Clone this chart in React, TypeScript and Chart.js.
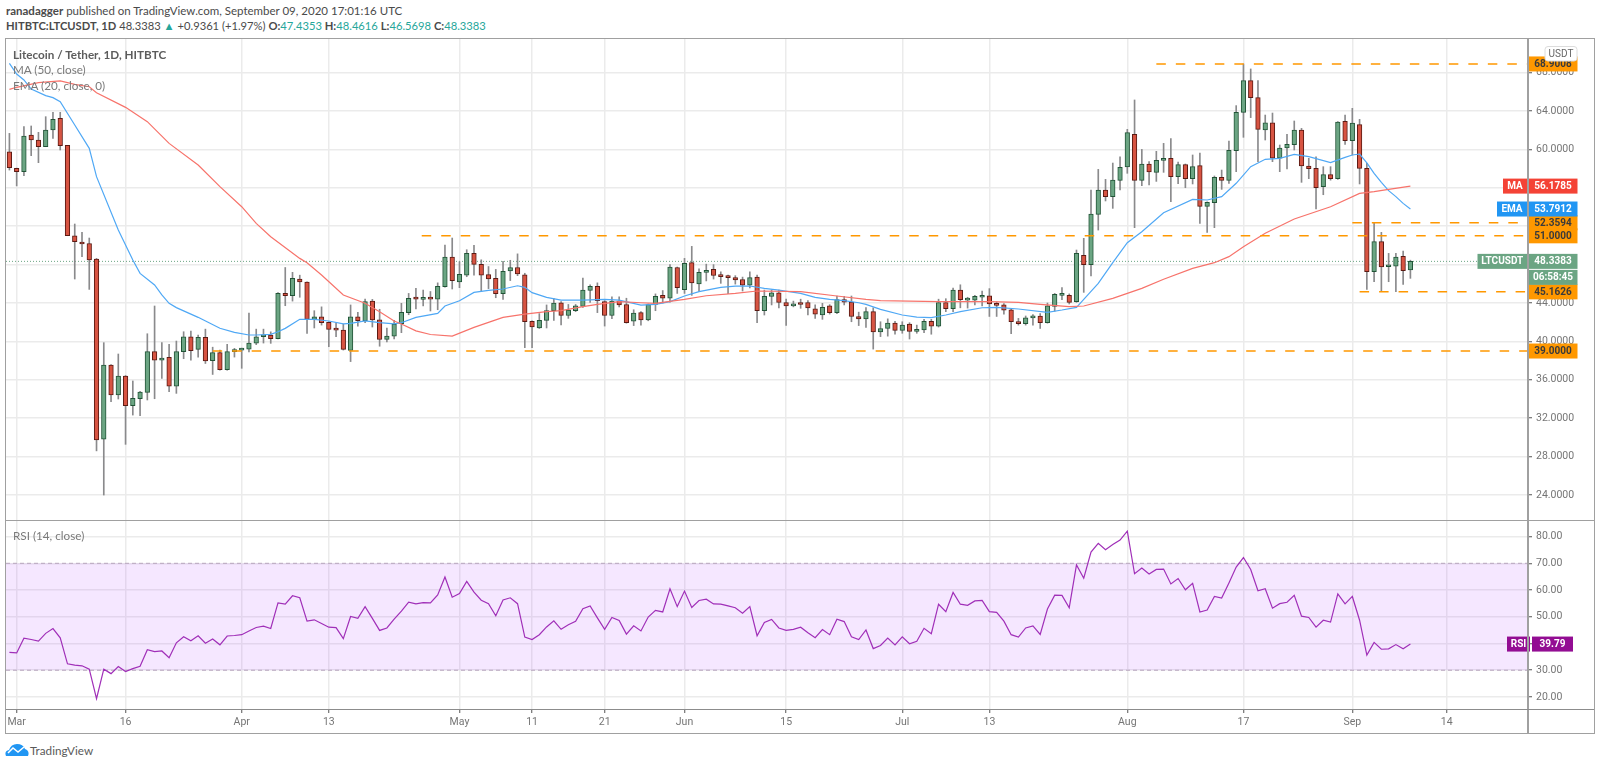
import React, { useEffect, useRef } from 'react';
import { Chart, registerables } from 'chart.js';

Chart.register(...registerables);

const FONT = 'Lato, "Open Sans", sans-serif';
const AXIS_FONT = 'Roboto, sans-serif';

// one entry per daily candle, first one is Feb 29, last one is Sep 9
const opens = [
  59.76, 58.03, 57.68, 61.5, 60.98, 60.28, 62.02, 63.24, 60.42, 51.01,
  50.28, 50.2, 48.58, 29.83, 37.54, 34.42, 36.4, 33.31, 34.03, 34.7,
  38.93, 38.06, 38.34, 35.35, 38.93, 40.49, 39.17, 40.42, 38.0, 38.83,
  37.06, 38.93, 39.1, 39.2, 39.83, 40.49, 40.66, 40.28, 45.0, 44.76,
  46.5, 46.19, 42.3, 42.55, 41.98, 41.28, 41.17, 39.07, 42.55, 42.17,
  44.2, 42.24, 40.2, 40.56, 41.85, 42.99, 44.63, 44.38, 44.5, 44.4,
  45.7, 48.79, 46.2, 46.9, 49.17, 48.03, 46.96, 46.57, 44.97, 47.35,
  47.7, 46.93, 42.1, 41.4, 42.2, 43.2, 44.03, 42.7, 43.2, 43.65,
  45.3, 45.74, 44.15, 42.7, 44.2, 43.85, 42.1, 43.0, 42.25, 43.85,
  44.8, 44.5, 47.7, 45.4, 48.2, 46.0, 47.2, 47.5, 46.87, 46.75,
  46.65, 46.45, 45.85, 46.7, 43.2, 44.68, 45.07, 44.05, 43.7, 43.9,
  44.05, 43.4, 42.75, 43.7, 43.0, 44.35, 44.1, 42.6, 42.35, 43.1,
  41.0, 41.35, 41.9, 41.15, 41.8, 41.05, 41.2, 42.1, 41.6, 44.05,
  43.4, 45.35, 44.3, 44.3, 44.6, 44.75, 43.9, 43.8, 43.3, 42.05,
  41.85, 42.45, 42.65, 41.95, 43.65, 44.8, 44.8, 44.14, 48.97, 48.0,
  53.24, 55.77, 55.08, 56.78, 58.17, 61.57, 56.78, 58.48, 57.61, 58.86,
  59.07, 57.16, 58.41, 56.95, 58.31, 54.07, 54.45, 57.09, 56.78, 59.87,
  63.86, 67.16, 65.39, 62.02, 62.78, 59.1, 60.15, 60.49, 62.02, 58.27,
  58.03, 56.12, 57.37, 56.95, 62.92, 60.91, 62.58, 58.03, 47.26, 50.39,
  47.78, 47.85, 48.86, 47.4353,
];
const highs = [
  61.67, 58.05, 62.37, 62.44, 61.78, 63.41, 63.86, 63.86, 60.42, 52.23,
  51.36, 50.77, 48.65, 39.87, 37.6, 38.69, 36.45, 35.88, 34.8, 40.8,
  43.69, 39.87, 39.7, 40.04, 41.01, 41.07, 40.66, 41.28, 39.4, 39.1,
  39.7, 39.28, 39.3, 42.96, 41.28, 41.28, 41.0, 45.1, 47.7, 47.2,
  46.9, 46.2, 43.2, 43.6, 42.05, 41.9, 41.8, 43.8, 43.04, 44.4,
  44.38, 43.35, 41.4, 42.2, 43.97, 45.0, 45.53, 45.35, 45.2, 46.1,
  50.04, 50.77, 48.3, 49.55, 50.0, 48.5, 47.8, 47.5, 48.33, 48.45,
  49.12, 47.1, 42.15, 42.9, 43.8, 44.45, 44.15, 43.85, 43.85, 46.6,
  45.9, 46.1, 44.25, 44.65, 44.65, 44.5, 43.3, 43.1, 43.9, 44.95,
  45.3, 48.0, 47.75, 48.65, 49.9, 47.55, 48.05, 48.0, 47.25, 46.9,
  46.85, 46.7, 47.25, 46.9, 45.35, 45.35, 45.35, 44.4, 44.2, 44.4,
  44.25, 43.8, 43.97, 43.83, 44.73, 44.7, 44.73, 43.05, 43.53, 43.5,
  42.05, 42.35, 42.1, 42.05, 41.95, 41.7, 42.3, 42.3, 44.4, 44.45,
  45.55, 45.9, 44.6, 44.8, 45.25, 45.5, 44.1, 43.95, 43.35, 42.4,
  42.65, 42.8, 42.9, 44.0, 45.0, 45.6, 44.95, 49.52, 50.74, 55.77,
  57.92, 56.88, 58.58, 59.24, 62.09, 65.15, 60.0, 58.72, 59.8, 60.63,
  61.12, 58.69, 58.48, 59.42, 59.63, 54.55, 57.23, 57.85, 60.88, 64.56,
  68.9, 68.38, 67.16, 63.58, 63.79, 60.46, 61.57, 62.96, 62.19, 59.07,
  59.24, 58.2, 58.2, 62.9, 63.58, 64.28, 63.13, 58.55, 52.37, 51.36,
  49.17, 49.17, 49.42, 48.4616,
];
const lows = [
  57.85, 56.2, 57.26, 59.35, 58.62, 60.28, 61.15, 59.94, 51.01, 46.5,
  48.83, 45.42, 28.6, 24.0, 33.72, 34.0, 29.28, 32.33, 32.26, 33.9,
  34.03, 36.15, 34.76, 34.59, 38.2, 38.06, 38.37, 37.7, 36.56, 37.0,
  37.0, 38.37, 37.2, 38.9, 39.66, 39.83, 39.8, 40.25, 43.72, 44.2,
  44.6, 40.84, 41.4, 41.7, 39.45, 40.5, 39.1, 37.9, 41.6, 41.95,
  41.5, 39.5, 39.96, 40.25, 40.91, 42.78, 43.38, 43.7, 43.17, 43.3,
  45.65, 45.46, 45.6, 46.74, 46.9, 45.18, 45.5, 44.55, 44.38, 46.34,
  46.85, 39.35, 39.35, 41.35, 41.4, 42.2, 41.73, 42.4, 43.1, 43.55,
  44.07, 43.0, 41.6, 42.36, 43.6, 41.9, 41.65, 41.7, 42.15, 43.2,
  44.0, 44.1, 45.0, 45.0, 44.8, 45.2, 46.3, 46.5, 46.05, 44.97,
  45.97, 45.25, 45.57, 41.96, 42.75, 43.8, 43.5, 41.67, 43.6, 43.45,
  42.75, 42.4, 42.3, 42.85, 42.9, 43.8, 42.05, 41.65, 41.45, 39.2,
  40.5, 40.55, 40.75, 40.85, 40.25, 40.85, 40.9, 40.75, 41.5, 43.1,
  43.1, 43.5, 43.47, 43.8, 43.7, 42.6, 42.6, 42.85, 40.8, 41.7,
  41.7, 41.7, 41.35, 41.9, 43.15, 44.35, 43.9, 44.07, 45.11, 46.81,
  51.6, 54.63, 53.86, 55.77, 57.51, 51.85, 56.22, 56.29, 56.67, 57.61,
  54.56, 56.43, 56.01, 56.4, 52.3, 51.36, 51.85, 55.84, 56.47, 57.68,
  61.26, 63.31, 58.72, 60.98, 58.72, 57.68, 57.96, 59.94, 56.57, 56.95,
  53.79, 55.28, 56.8, 56.88, 60.53, 59.42, 56.4, 45.42, 46.22, 45.18,
  46.22, 45.18, 45.94, 46.5698,
];
const closes = [
  58.1, 57.68, 61.4, 60.98, 60.28, 62.02, 63.13, 60.39, 51.01, 50.39,
  50.15, 48.48, 29.73, 37.54, 34.42, 36.4, 33.31, 34.07, 34.73, 38.93,
  38.06, 38.27, 35.35, 38.93, 40.49, 39.03, 40.42, 37.96, 38.83, 37.06,
  38.93, 39.1, 39.2, 39.83, 40.49, 40.66, 40.28, 45.0, 44.76, 46.57,
  46.2, 42.3, 42.55, 41.95, 41.25, 41.17, 39.17, 42.55, 42.17, 44.14,
  42.24, 40.2, 40.56, 41.77, 43.03, 44.49, 44.4, 44.5, 44.4, 45.74,
  48.79, 46.33, 47.0, 49.17, 48.03, 46.9, 46.5, 44.97, 47.3, 47.7,
  47.03, 42.06, 41.5, 42.2, 43.2, 44.0, 42.7, 43.26, 43.7, 45.36,
  45.74, 44.25, 42.7, 44.2, 43.8, 41.95, 42.95, 42.25, 43.85, 44.7,
  44.5, 47.75, 45.6, 48.13, 46.1, 47.2, 47.4, 46.87, 46.75, 46.65,
  46.4, 45.87, 46.65, 43.2, 44.7, 45.07, 44.05, 43.7, 43.85, 43.85,
  43.5, 42.85, 43.55, 43.0, 44.35, 44.1, 42.6, 42.35, 43.1, 41.0,
  41.35, 41.9, 41.15, 41.7, 41.05, 41.2, 42.1, 41.6, 44.05, 43.4,
  45.35, 44.35, 44.35, 44.7, 44.7, 43.9, 43.75, 43.25, 42.05, 41.85,
  42.45, 42.6, 41.95, 43.7, 44.9, 44.9, 44.07, 49.17, 48.0, 53.27,
  55.77, 55.08, 56.81, 58.13, 61.74, 56.78, 58.48, 57.65, 58.86, 59.07,
  57.16, 58.41, 56.95, 58.2, 54.07, 54.49, 57.09, 56.78, 59.9, 63.86,
  67.16, 65.39, 62.09, 62.78, 59.1, 60.15, 60.53, 62.02, 58.27, 57.99,
  56.01, 57.37, 56.95, 62.85, 60.91, 62.75, 58.03, 47.26, 50.39, 47.75,
  47.96, 48.79, 47.37, 48.3383,
];
const rsiValues = [
  36.7, 36.46, 42.0, 41.5, 40.9, 43.8, 45.57, 42.15, 32.4, 31.9,
  31.65, 30.4, 19.37, 30.4, 28.73, 31.4, 29.5, 30.6, 31.5, 37.7,
  37.0, 37.2, 34.7, 40.25, 42.5, 41.0, 42.9, 40.1, 41.65, 39.5,
  42.8, 43.0, 43.3, 44.7, 46.0, 46.5, 45.6, 55.2, 54.7, 57.85,
  57.1, 48.35, 48.86, 47.5, 46.1, 45.95, 41.8, 50.1, 49.4, 53.8,
  49.4, 44.9, 45.8, 49.1, 52.15, 55.44, 54.8, 55.3, 55.2, 58.2,
  64.9, 57.3, 58.7, 63.2, 59.2, 56.2, 54.9, 50.4, 56.3, 57.1,
  54.9, 42.4, 41.5, 43.3, 46.2, 48.5, 45.3, 47.0, 48.35, 53.0,
  54.05, 49.6, 45.3, 49.75, 48.6, 43.5, 46.6, 44.7, 49.9, 52.4,
  51.8, 60.5, 53.8, 59.6, 53.5, 56.1, 56.6, 54.8, 54.7, 54.05,
  53.4, 51.3, 53.8, 42.9, 47.85, 49.0, 45.8, 44.9, 45.3, 46.1,
  44.05, 42.15, 45.2, 43.3, 49.1, 48.2, 42.5, 41.5, 45.06, 38.1,
  39.25, 42.0, 39.5, 42.5, 39.9, 40.8, 45.7, 43.67, 54.7, 51.9,
  59.1, 54.7, 54.3, 55.95, 56.1, 51.9, 51.65, 48.35, 43.3, 42.4,
  45.8, 46.6, 43.4, 52.9, 58.1, 58.0, 53.4, 69.4, 64.4, 74.2,
  77.5, 75.06, 77.0, 78.7, 82.0, 66.1, 68.2, 66.0, 67.7, 67.85,
  62.3, 64.3, 60.1, 62.5, 51.8, 52.5, 57.6, 57.0, 62.65, 68.6,
  72.15, 67.7, 59.75, 60.5, 53.2, 54.9, 55.44, 58.0, 50.25, 49.75,
  46.1, 48.7, 48.0, 58.6, 54.8, 57.6, 48.7, 35.7, 40.4, 37.85,
  38.0, 39.6, 38.0, 39.79,
];

// moving averages, read at the bends of each line (days counted from Mar 1)
const emaDays = [
  -1, 0, 1, 2, 4, 5, 6, 8, 10, 11, 14, 16, 17, 19, 20, 21, 22, 25, 28, 30, 32, 33, 35, 36, 37, 39, 41, 43, 45, 46, 48,
  50, 52, 53, 55, 58, 59, 61, 63, 65, 67, 69, 70, 71, 73, 75, 78, 81, 83, 86, 88, 90, 92, 94, 97, 99, 101, 103, 105,
  108, 110, 112, 114, 116, 117, 119, 122, 124, 126, 128, 130, 133, 135, 138, 142, 144, 146, 147, 149, 151, 153, 155,
  158, 162, 164, 166, 168, 170, 172, 174, 176, 178, 181, 183, 184, 185, 186, 187, 188, 189, 190, 191, 192,
];
const emaValues = [
  68.97, 67.85, 67.23, 66.29, 65.6, 65.39, 64.97, 62.54, 60.11, 57.16, 51.6, 48.48, 47.09, 45.88, 44.84, 43.97, 43.52,
  42.51, 41.37, 40.95, 40.67, 40.67, 40.74, 41.01, 41.36, 42.3, 42.3, 42.13, 41.82, 41.89, 42.13, 41.95, 41.82, 41.95,
  42.51, 42.92, 43.69, 44.24, 45.11, 45.32, 45.46, 45.8, 45.63, 45.08, 44.59, 44.31, 44.31, 44.38, 44.31, 43.79, 43.86,
  44.14, 44.73, 45.18, 45.63, 45.77, 45.77, 45.53, 45.35, 45.01, 44.59, 44.38, 44.24, 44.03, 43.86, 43.34, 42.75, 42.54,
  42.47, 42.75, 43.1, 43.51, 43.55, 43.38, 43.03, 43.27, 43.55, 44.38, 46.05, 48.2, 50.28, 51.43, 53.41, 54.8, 54.73,
  55.08, 56.47, 58.2, 58.97, 59.07, 59.49, 59.24, 58.62, 59.17, 59.42, 59.52, 58.6, 57.5, 56.57, 55.7, 55.08, 54.38,
  53.7912,
];
const maDays = [
  -1, 0, 3, 6, 8, 10, 11, 15, 18, 21, 25, 28, 31, 33, 35, 39, 40, 42, 45, 48, 50, 52, 53, 55, 57, 60, 63, 65, 67, 70,
  73, 75, 78, 80, 83, 86, 88, 92, 95, 99, 102, 108, 113, 117, 119, 123, 127, 134, 138, 141, 145, 147, 151, 155, 158,
  162, 165, 167, 169, 172, 176, 181, 185, 187, 189, 192,
];
const maValues = [
  66.26, 66.47, 66.95, 67.13, 66.78, 66.53, 65.91, 64.38, 62.89, 60.63, 58.38, 56.12, 54.03, 52.3, 50.91, 48.65, 48.2,
  46.92, 44.83, 43.97, 43.1, 42.13, 41.81, 41.1, 40.72, 40.55, 41.46, 41.98, 42.51, 42.85, 43.1, 43.2, 43.62, 43.86,
  44.14, 44.03, 43.96, 44.38, 44.76, 45.0, 45.25, 45.18, 44.73, 44.38, 44.24, 44.2, 44.14, 44.14, 44.07, 43.86, 43.62,
  43.69, 44.49, 45.53, 46.47, 47.61, 48.2, 48.83, 49.87, 51.26, 52.75, 54.03, 55.42, 55.6, 55.84, 56.1785,
];

// horizontal support / resistance lines: price and first day
const levelPrices = [68.9008, 52.3594, 51, 45.1626, 39];
const levelStarts = [157, 184, 55.8, 185, 27];

const priceTicks = [24, 28, 32, 36, 40, 44, 48, 52, 56, 60, 64, 68];
const rsiTicks = [20, 30, 40, 50, 60, 70, 80];
const timeTickDays = [0, 15, 31, 43, 61, 71, 81, 92, 106, 122, 134, 153, 169, 184, 197];
const timeTickNames = ['Mar', '16', 'Apr', '13', 'May', '11', '21', 'Jun', '15', 'Jul', '13', 'Aug', '17', 'Sep', '14'];

const lastPrice = 48.3383;
const lastRsi = 39.79;
const maLast = 56.1785;
const emaLast = 53.7912;

const X_MIN = -1.47;
const X_MAX = 208.2;
const GRID = '#ebebeb';
const UP = '#6ba583';
const DOWN = '#d75442';

const days = closes.map((_, i) => i - 1);

const xy = (xs: number[], ys: number[]) => xs.map((x, i) => ({ x, y: ys[i] }));

const drawTag = (ctx: any, x: number, y: number, w: number, text: string, fill: string, color: string) => {
  ctx.fillStyle = fill;
  ctx.fillRect(x, y - 7.5, w, 15);
  ctx.fillStyle = color;
  ctx.textAlign = 'center';
  ctx.textBaseline = 'middle';
  ctx.fillText(text, x + w / 2, y + 0.5);
};

const priceTagsPlugin = {
  id: 'priceTags',
  afterDraw(chart: any) {
    const { ctx, scales } = chart;
    const y = (v: number) => scales.y.getPixelForValue(v);
    ctx.save();
    ctx.font = `bold 10px ${AXIS_FONT}`;
    levelPrices.forEach((p) => drawTag(ctx, 1528.5, y(p), 49, p.toFixed(4), '#ff9800', '#3a3a3a'));
    drawTag(ctx, 1503, y(maLast), 24, 'MA', '#f44336', '#fff');
    drawTag(ctx, 1528.5, y(maLast), 49, maLast.toFixed(4), '#f44336', '#fff');
    drawTag(ctx, 1497, y(emaLast), 30, 'EMA', '#2196f3', '#fff');
    drawTag(ctx, 1528.5, y(emaLast), 49, emaLast.toFixed(4), '#2196f3', '#fff');
    drawTag(ctx, 1477.5, y(lastPrice), 49.5, 'LTCUSDT', UP, '#fff');
    drawTag(ctx, 1528.5, y(lastPrice), 49, lastPrice.toFixed(4), UP, '#fff');
    drawTag(ctx, 1528.5, y(lastPrice) + 16, 49, '06:58:45', UP, '#fff');
    // currency box in the corner of the price axis
    ctx.fillStyle = '#fff';
    ctx.strokeStyle = '#dcdcdc';
    ctx.beginPath();
    ctx.roundRect(1545, 7.5, 32, 14.5, 3);
    ctx.fill();
    ctx.stroke();
    ctx.fillStyle = '#666';
    ctx.font = `10px ${AXIS_FONT}`;
    ctx.fillText('USDT', 1561, 15);
    ctx.restore();
  },
};

const rsiBandPlugin = {
  id: 'rsiBand',
  beforeDatasetsDraw(chart: any) {
    const { ctx, scales, chartArea } = chart;
    const top = scales.y.getPixelForValue(70);
    const bottom = scales.y.getPixelForValue(30);
    ctx.save();
    ctx.fillStyle = 'rgba(153,21,255,0.1)';
    ctx.fillRect(chartArea.left, top, chartArea.width, bottom - top);
    ctx.strokeStyle = '#b7a6bd';
    ctx.setLineDash([4, 3]);
    [top, bottom].forEach((y) => {
      ctx.beginPath();
      ctx.moveTo(chartArea.left, y);
      ctx.lineTo(chartArea.right, y);
      ctx.stroke();
    });
    ctx.restore();
  },
  afterDraw(chart: any) {
    const { ctx, scales } = chart;
    const y = scales.y.getPixelForValue(lastRsi);
    ctx.save();
    ctx.font = `bold 10px ${AXIS_FONT}`;
    drawTag(ctx, 1507, y, 23, 'RSI', '#930d93', '#fff');
    drawTag(ctx, 1532, y, 41, lastRsi.toFixed(2), '#930d93', '#fff');
    ctx.restore();
  },
};

// the label half-heights must not eat into the plot area
const noPadding = (scale: any) => {
  scale.paddingTop = 0;
  scale.paddingBottom = 0;
  scale.paddingLeft = 0;
  scale.paddingRight = 0;
};

const xScale = (showLabels: boolean) => ({
  type: 'linear',
  min: X_MIN,
  max: X_MAX,
  offset: false,
  afterBuildTicks: (scale: any) => {
    scale.ticks = timeTickDays.map((value) => ({ value }));
  },
  afterFit: (scale: any) => {
    scale.height = showLabels ? 24 : 0;
    noPadding(scale);
  },
  grid: {
    offset: false,
    color: GRID,
    lineWidth: 1.5,
    drawTicks: showLabels,
    tickLength: 4,
    tickColor: '#555',
    tickWidth: 1,
  },
  border: { display: false },
  ticks: {
    display: showLabels,
    autoSkip: false,
    maxRotation: 0,
    padding: 3,
    color: '#757575',
    font: { family: AXIS_FONT, size: 10.5 },
    callback: (value: number) => timeTickNames[timeTickDays.indexOf(value)],
  },
});

const yScale = (min: number, max: number, values: number[], digits: number) => ({
  type: 'linear',
  position: 'right',
  min,
  max,
  afterBuildTicks: (scale: any) => {
    scale.ticks = values.map((value) => ({ value }));
  },
  afterFit: (scale: any) => {
    scale.width = 66;
    noPadding(scale);
  },
  grid: { color: GRID, lineWidth: 1.5, tickLength: 4, tickColor: '#555', tickWidth: 1 },
  border: { display: false },
  ticks: {
    padding: 4,
    color: '#757575',
    font: { family: AXIS_FONT, size: 10.5 },
    callback: (value: number) => value.toFixed(digits),
  },
});

const baseOptions = {
  responsive: false,
  animation: false,
  events: [],
  layout: { padding: { left: 6, right: 6, top: 0, bottom: 0 } },
  plugins: { legend: { display: false }, tooltip: { enabled: false } },
};

const lineStyle = { type: 'line', pointRadius: 0, fill: false, tension: 0 };

const divText = (left: number, top: number, extra: React.CSSProperties = {}): React.CSSProperties => ({
  position: 'absolute',
  left,
  top,
  whiteSpace: 'nowrap',
  lineHeight: '16px',
  fontFamily: FONT,
  fontSize: 11.7,
  color: '#7a7a7a',
  ...extra,
});

const App: React.FC = () => {
  const mainRef = useRef<HTMLCanvasElement>(null);
  const rsiRef = useRef<HTMLCanvasElement>(null);

  useEffect(() => {
    if (!mainRef.current || !rsiRef.current) return;

    const levelSets = levelPrices.map((price, i) => ({
      ...lineStyle,
      data: [
        { x: levelStarts[i], y: price },
        { x: X_MAX, y: price },
      ],
      borderColor: '#ff9800',
      borderWidth: 1.5,
      borderDash: [9.5, 10],
      order: 1,
    }));

    const mainChart = new Chart(mainRef.current, {
      type: 'bar',
      data: {
        datasets: [
          {
            // wicks sit under the bodies
            data: days.map((x, i) => ({ x, y: [lows[i], highs[i]] })),
            backgroundColor: '#8a8a8c',
            barThickness: 1,
            grouped: false,
            order: 5,
          },
          {
            data: days.map((x, i) => ({ x, y: [opens[i], closes[i]] })),
            backgroundColor: days.map((_, i) => (closes[i] >= opens[i] ? UP : DOWN)),
            borderColor: days.map((_, i) => (closes[i] >= opens[i] ? '#225437' : '#5b1a13')),
            borderWidth: 1,
            borderSkipped: false,
            barThickness: 4.6,
            minBarLength: 2,
            grouped: false,
            order: 4,
          },
          {
            ...lineStyle,
            data: xy(emaDays, emaValues),
            borderColor: '#4fa8f5',
            borderWidth: 1.2,
            order: 3,
          },
          {
            ...lineStyle,
            data: xy(maDays, maValues),
            borderColor: '#f7736b',
            borderWidth: 1.2,
            order: 2,
          },
          ...levelSets,
          {
            ...lineStyle,
            data: [
              { x: X_MIN, y: lastPrice },
              { x: X_MAX, y: lastPrice },
            ],
            borderColor: '#6ba583',
            borderWidth: 1,
            borderDash: [1, 2],
            order: 6,
          },
        ],
      } as any,
      options: {
        ...baseOptions,
        scales: {
          x: xScale(false),
          y: yScale(21.4, 71.5, priceTicks, 4),
        },
      } as any,
      plugins: [priceTagsPlugin],
    });

    const rsiChart = new Chart(rsiRef.current, {
      type: 'line',
      data: {
        datasets: [
          {
            ...lineStyle,
            data: xy(days, rsiValues),
            borderColor: '#a02fb8',
            borderWidth: 1.2,
          },
        ],
      } as any,
      options: {
        ...baseOptions,
        scales: {
          x: xScale(true),
          y: yScale(15.5, 86.2, rsiTicks, 2),
        },
      } as any,
      plugins: [rsiBandPlugin],
    });

    return () => {
      mainChart.destroy();
      rsiChart.destroy();
    };
  }, []);

  const teal = { color: '#26a69a' };

  return (
    <div style={{ position: 'absolute', left: 0, top: 0, width: 1600, height: 763, overflow: 'hidden', background: '#fff' }}>
      <div style={divText(6, 3, { color: '#4a4a4a', fontSize: 11.5 })}>
        <b>ranadagger</b> published on TradingView.com, September 09, 2020 17:01:16 UTC
      </div>
      <div style={divText(6, 18, { color: '#4a4a4a', fontSize: 11.2 })}>
        <b>HITBTC:LTCUSDT, 1D</b> 48.3383 <span style={teal}>▲</span> +0.9361 (+1.97%) <b>O:</b><span style={teal}>47.4353</span>{' '}
        <b>H:</b><span style={teal}>48.4616</span> <b>L:</b><span style={teal}>46.5698</span> <b>C:</b><span style={teal}>48.3383</span>
      </div>

      <canvas ref={mainRef} width={1600} height={481} style={{ position: 'absolute', left: 0, top: 39, display: 'block' }} />
      <canvas ref={rsiRef} width={1600} height={213} style={{ position: 'absolute', left: 0, top: 520, display: 'block' }} />

      {/* pane frame and separators */}
      <div style={{ position: 'absolute', left: 5, top: 38, width: 1588, height: 694, border: '1.5px solid #a0a0a0' }} />
      <div style={{ position: 'absolute', left: 1527, top: 39, width: 1.5, height: 694, background: '#a0a0a0' }} />
      <div style={{ position: 'absolute', left: 6, top: 519.5, width: 1588, height: 1.5, background: '#a0a0a0' }} />
      <div style={{ position: 'absolute', left: 6, top: 709, width: 1588, height: 1, background: '#8c8c8c' }} />

      <div style={divText(13, 46, { fontWeight: 700, color: '#5c5c5c' })}>Litecoin / Tether, 1D, HITBTC</div>
      <div style={divText(13, 61)}>MA (50, close)</div>
      <div style={divText(13, 77)}>EMA (20, close, 0)</div>
      <div style={divText(13, 527)}>RSI (14, close)</div>

      <svg width={24} height={14} viewBox="0 0 24 14" style={{ position: 'absolute', left: 5, top: 743 }}>
        <path d="M1 13 Q-1 8 4 7 Q6 1 12 1 Q18 1 20 6 Q25 8 23 13 Z" fill="#2196f3" />
        <path d="M3 10 L8 5 L13 9 L19 4" fill="none" stroke="#fff" strokeWidth={1.5} />
      </svg>
      <div style={divText(30, 742, { color: '#5a5a5a' })}>TradingView</div>
    </div>
  );
};

export default App;
